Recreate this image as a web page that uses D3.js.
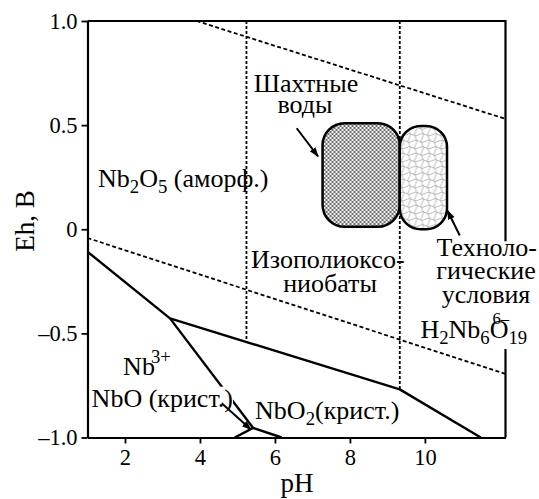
<!DOCTYPE html>
<html>
<head>
<meta charset="utf-8">
<script src="https://cdn.jsdelivr.net/npm/d3@7"></script>
<style>
  body { margin: 0; background: #fff; }
  svg text { font-family: "Liberation Serif", "Times New Roman", Tinos, "DejaVu Serif", "Noto Serif", serif; fill: #000; }
</style>
</head>
<body>
<div id="chart"></div>
<script>
// axis ranges
const phDomain = [1, 12.15];
const ehDomain = [-1, 1];
const phTicks = [2, 4, 6, 8, 10];
const ehTicks = [-1, -0.5, 0, 0.5, 1];
const ehTickLabels = ["\u20131.0", "\u20130.5", "0", "0.5", "1.0"];

// water stability limits (dashed)
const waterUpper = [[3.91, 1.0], [12.15, 0.53]];
const waterLower = [[1, -0.042], [12.15, -0.695]];

// field boundaries (solid)
const lineNb3 = [[1, -0.108], [3.2, -0.428]];
const lineIso = [[3.2, -0.428], [9.33, -0.769], [11.49, -1.0]];
const lineNbO = [[3.2, -0.428], [5.42, -0.954]];
const lineNbO2Right = [[5.42, -0.954], [6.18, -1.0]];
const lineNbO2Left = [[5.42, -0.954], [4.93, -1.0]];

// vertical dashed dividers: pH, Eh top, Eh bottom
const dividerPh = [5.24, 9.33];
const dividerTop = [1.0, 1.0];
const dividerBottom = [-0.542, -0.769];

// water condition fields: [pH min, pH max], [Eh min, Eh max]
const minePh = [7.27, 9.33];
const mineEh = [0.012, 0.509];
const techPh = [9.33, 10.59];
const techEh = [0.0, 0.496];

// arrows [from, to]
const arrowMine = [[6.58, 0.485], [7.15, 0.35]];
const arrowTech = [[10.93, -0.03], [10.6, 0.09]];
const arrowNbO = [[4.58, -0.836], [5.36, -0.962]];

const W = 539, H = 499;
const margin = {top: 21, right: 33.5, bottom: 61.5, left: 87.5};
const width = W - margin.left - margin.right;
const height = H - margin.top - margin.bottom;
const serif = '"Liberation Serif", "Times New Roman", Tinos, "DejaVu Serif", serif';

const svg = d3.select('#chart').append('svg')
  .attr('width', W)
  .attr('height', H)
  .attr('font-family', serif);

const defs = svg.append('defs');

// dense checker for mine waters
const chk = defs.append('pattern')
  .attr('id', 'checker')
  .attr('patternUnits', 'userSpaceOnUse')
  .attr('width', 4).attr('height', 4);
chk.append('rect').attr('width', 4).attr('height', 4).attr('fill', '#f0f0f0');
chk.append('rect').attr('width', 2).attr('height', 2).attr('fill', '#707070');
chk.append('rect').attr('x', 2).attr('y', 2).attr('width', 2).attr('height', 2).attr('fill', '#707070');

// wavy weave for technological conditions
const wv = defs.append('pattern')
  .attr('id', 'weave')
  .attr('patternUnits', 'userSpaceOnUse')
  .attr('width', 13).attr('height', 13);
wv.append('rect').attr('width', 13).attr('height', 13).attr('fill', '#fff');
wv.append('path')
  .attr('d', 'M0,3.25 Q3.25,0.8 6.5,3.25 T13,3.25 M0,9.75 Q3.25,12.2 6.5,9.75 T13,9.75 M3.25,0 Q5.7,3.25 3.25,6.5 T3.25,13 M9.75,0 Q7.3,3.25 9.75,6.5 T9.75,13')
  .attr('fill', 'none')
  .attr('stroke', '#a0a0a0')
  .attr('stroke-width', 0.75);

defs.append('marker')
  .attr('id', 'arrow')
  .attr('viewBox', '0 0 10 10')
  .attr('refX', 9).attr('refY', 5)
  .attr('markerWidth', 10).attr('markerHeight', 10)
  .attr('markerUnits', 'userSpaceOnUse')
  .attr('orient', 'auto')
  .append('path')
  .attr('d', 'M0,1.5 L10,5 L0,8.5 Z')
  .attr('fill', '#000');

const g = svg.append('g')
  .attr('transform', `translate(${margin.left},${margin.top})`);

const x = d3.scaleLinear().domain(phDomain).range([0, width]);
const y = d3.scaleLinear().domain(ehDomain).range([height, 0]);

const line = d3.line()
  .x(d => x(d[0]))
  .y(d => y(d[1]));

// fields
g.append('rect')
  .attr('x', x(minePh[0])).attr('y', y(mineEh[1]))
  .attr('width', x(minePh[1]) - x(minePh[0]))
  .attr('height', y(mineEh[0]) - y(mineEh[1]))
  .attr('rx', 22).attr('ry', 22)
  .attr('fill', 'url(#checker)')
  .attr('stroke', '#000').attr('stroke-width', 2.5);

g.append('rect')
  .attr('x', x(techPh[0])).attr('y', y(techEh[1]))
  .attr('width', x(techPh[1]) - x(techPh[0]))
  .attr('height', y(techEh[0]) - y(techEh[1]))
  .attr('rx', 21).attr('ry', 21)
  .attr('fill', 'url(#weave)')
  .attr('stroke', '#000').attr('stroke-width', 2.5);

// dashed lines
[waterUpper, waterLower].forEach(d => {
  g.append('path').datum(d)
    .attr('d', line)
    .attr('fill', 'none')
    .attr('stroke', '#000')
    .attr('stroke-width', 1.8)
    .attr('stroke-dasharray', '4,2.5');
});

dividerPh.forEach((p, i) => {
  g.append('path').datum([[p, dividerTop[i]], [p, dividerBottom[i]]])
    .attr('d', line)
    .attr('fill', 'none')
    .attr('stroke', '#000')
    .attr('stroke-width', 1.8)
    .attr('stroke-dasharray', '3,2');
});

// solid boundaries
[lineNb3, lineIso, lineNbO, lineNbO2Right, lineNbO2Left].forEach(d => {
  g.append('path').datum(d)
    .attr('d', line)
    .attr('fill', 'none')
    .attr('stroke', '#000')
    .attr('stroke-width', 2.4)
    .attr('stroke-linejoin', 'round');
});

// axes
const xAxis = g.append('g')
  .attr('transform', `translate(0,${height})`)
  .call(d3.axisBottom(x).tickValues(phTicks).tickSize(6).tickSizeOuter(0).tickPadding(6));

const yAxis = g.append('g')
  .call(d3.axisLeft(y).tickValues(ehTicks).tickSize(6).tickSizeOuter(0).tickPadding(4)
    .tickFormat((d, i) => ehTickLabels[i]));

[xAxis, yAxis].forEach(a => {
  a.attr('font-family', serif);
  a.select('.domain').attr('stroke-width', 2.2);
  a.selectAll('.tick line').attr('stroke-width', 1.8);
  a.selectAll('.tick text')
    .attr('font-size', 22.5)
    .attr('fill', '#000');
});

// frame top/right
g.append('path')
  .attr('d', `M0,0 H${width} V${height}`)
  .attr('fill', 'none')
  .attr('stroke', '#000')
  .attr('stroke-width', 2.2);

// axis titles
svg.append('text')
  .attr('transform', `translate(33.5,221) rotate(-90)`)
  .attr('text-anchor', 'middle')
  .attr('font-size', 27)
  .text('Eh, В');

svg.append('text')
  .attr('x', 297).attr('y', 492)
  .attr('text-anchor', 'middle')
  .attr('font-size', 27)
  .text('pH');

// labels
const fs = 26;
const lbl = g.append('g').attr('font-size', fs);

function withSub(t, parts) {
  parts.forEach(p => {
    const s = t.append('tspan').text(p.t);
    if (p.sub) s.attr('font-size', fs * 0.72).attr('dy', 6);
    if (p.up) s.attr('dy', -6);
  });
}

const nb2o5 = lbl.append('text').attr('x', x(1.28)).attr('y', y(0.205));
withSub(nb2o5, [{t: 'Nb'}, {t: '2', sub: true}, {t: 'O', up: true}, {t: '5', sub: true}, {t: ' (аморф.)', up: true}]);

lbl.append('text').attr('x', x(6.83)).attr('y', y(0.66)).attr('text-anchor', 'middle').text('Шахтные');
lbl.append('text').attr('x', x(6.8)).attr('y', y(0.557)).attr('text-anchor', 'middle').text('воды');

lbl.append('text').attr('x', x(7.41)).attr('y', y(-0.187)).attr('text-anchor', 'middle').text('Изополиоксо-');
lbl.append('text').attr('x', x(7.47)).attr('y', y(-0.302)).attr('text-anchor', 'middle').text('ниобаты');

// technological label block with white backing
const tech = lbl.append('g');
const techBg = tech.append('rect').attr('fill', '#fff');
tech.append('text').attr('x', x(11.65)).attr('y', y(-0.128)).attr('text-anchor', 'middle').text('Техноло-');
tech.append('text').attr('x', x(11.63)).attr('y', y(-0.241)).attr('text-anchor', 'middle').text('гические');
tech.append('text').attr('x', x(11.63)).attr('y', y(-0.352)).attr('text-anchor', 'middle').text('условия');
const hnb = tech.append('text').attr('x', x(9.88)).attr('y', y(-0.522));
withSub(hnb, [{t: 'H'}, {t: '2', sub: true}, {t: 'Nb', up: true}, {t: '6', sub: true}, {t: 'O', up: true}, {t: '19', sub: true}]);
tech.append('text').attr('x', x(11.8)).attr('y', y(-0.455))
  .attr('font-size', fs * 0.64).text('6\u2013');
techBg.attr('x', x(10.88)).attr('y', y(-0.058))
  .attr('width', W - margin.left - x(10.88))
  .attr('height', y(-0.575) - y(-0.058));

// Nb3+
const nb3 = lbl.append('text').attr('x', x(1.95)).attr('y', y(-0.7));
nb3.append('tspan').text('Nb');
nb3.append('tspan').attr('font-size', fs * 0.72).attr('dy', -12).attr('dx', -4).text('3+');

// NbO (крист.) with white backing over the boundary
const nbo = lbl.append('g');
const nboText = nbo.append('text').attr('x', x(1.11)).attr('y', y(-0.852)).text('NbO (крист.)');
const bb = nboText.node().getBBox();
nbo.insert('rect', 'text')
  .attr('x', bb.x).attr('y', bb.y + 3)
  .attr('width', bb.width).attr('height', bb.height - 6)
  .attr('fill', '#fff');

const nbo2 = lbl.append('text').attr('x', x(5.47)).attr('y', y(-0.91));
withSub(nbo2, [{t: 'NbO'}, {t: '2', sub: true}, {t: '(крист.)', up: true}]);

// arrows
[arrowMine, arrowTech, arrowNbO].forEach(d => {
  g.append('path').datum(d)
    .attr('d', line)
    .attr('fill', 'none')
    .attr('stroke', '#000')
    .attr('stroke-width', 2)
    .attr('marker-end', 'url(#arrow)');
});
</script>
</body>
</html>
